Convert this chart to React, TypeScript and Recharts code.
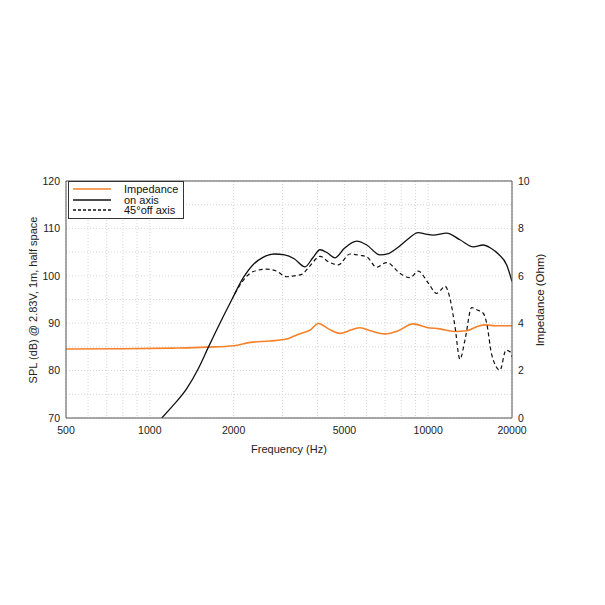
import { CartesianGrid, Legend, Line, LineChart, ReferenceLine, XAxis, YAxis } from 'recharts'

const FONT = '"Liberation Sans", Arial, sans-serif'
const ORANGE = '#f5822a'

// frequency ticks (grid on every decade step, labels only on the main ones)
const FREQ_TICKS = [500, 600, 700, 800, 900, 1000, 2000, 3000, 4000, 5000, 6000, 7000, 8000, 9000, 10000, 20000]
const FREQ_LABELS = [500, 1000, 2000, 5000, 10000, 20000]
const SPL_TICKS = [70, 75, 80, 85, 90, 95, 100, 105, 110, 115, 120]
const OHM_TICKS = [0, 2, 4, 6, 8, 10]

// impedance curve
const IMP_FREQ = [500, 800, 1200, 1600, 2000, 2300, 2700, 3100, 3300, 3550, 3760, 4030, 4400, 4820, 5300, 5700, 6200, 7000, 7800, 8800, 9900, 11000, 12400, 13750, 15000, 16000, 17500, 20000]
const IMP_OHM = [2.91, 2.92, 2.95, 2.99, 3.05, 3.19, 3.25, 3.33, 3.46, 3.6, 3.7, 3.99, 3.75, 3.57, 3.72, 3.81, 3.68, 3.55, 3.68, 3.97, 3.82, 3.76, 3.65, 3.68, 3.86, 3.93, 3.89, 3.89]

// on axis SPL
const ON_FREQ = [1104, 1215, 1357, 1493, 1622, 1786, 1968, 2167, 2354, 2550, 2800, 3050, 3300, 3611, 3850, 4087, 4350, 4626, 5000, 5540, 6015, 6712, 7200, 7710, 8400, 9210, 9800, 10430, 11640, 13000, 14530, 15770, 16800, 17860, 19140, 20000]
const ON_SPL = [70, 72.7, 76.2, 80.4, 84.9, 90, 94.9, 99.6, 102.4, 103.9, 104.6, 104.4, 103.6, 101.9, 103.8, 105.5, 104.8, 103.8, 105.8, 107.3, 106.5, 104.4, 104.7, 105.8, 107.6, 109.1, 108.8, 108.6, 109.0, 107.6, 106.1, 106.5, 105.8, 104.6, 102.3, 98.8]

// 45 deg off axis SPL
const OFF_FREQ = [2020, 2150, 2354, 2630, 2850, 3103, 3300, 3514, 3750, 4087, 4400, 4755, 5237, 5700, 6015, 6530, 7095, 7925, 8605, 9210, 10000, 10720, 11100, 11490, 12000, 12480, 13000, 13560, 14330, 15000, 15770, 16220, 16920, 18110, 19020, 19680, 20000]
const OFF_SPL = [96.2, 98.8, 100.9, 101.4, 101.0, 99.8, 100.0, 100.3, 102.0, 104.1, 102.9, 102.3, 104.6, 104.3, 104.0, 101.8, 102.8, 100.5, 99.6, 101.0, 98.5, 96.3, 97.0, 97.8, 95.0, 89.3, 82.4, 86.5, 93.3, 92.8, 92.1, 90.0, 83.3, 80.1, 84.3, 84.0, 82.9]

const impData = IMP_FREQ.map((f, i) => ({ f, v: IMP_OHM[i] }))
const onData = ON_FREQ.map((f, i) => ({ f, v: ON_SPL[i] }))
const offData = OFF_FREQ.map((f, i) => ({ f, v: OFF_SPL[i] }))

const LEGEND_ITEMS = [
  { label: 'Impedance', color: ORANGE, dash: undefined },
  { label: 'on axis', color: '#111', dash: undefined },
  { label: '45°off axis', color: '#111', dash: '3 2' },
]

function LegendBox() {
  return (
    <div
      style={{
        width: 114,
        border: '1px solid #333',
        background: '#fff',
        padding: '2px 0',
        fontFamily: FONT,
        fontSize: 11,
        lineHeight: '10.5px',
        color: '#111',
      }}
    >
      {LEGEND_ITEMS.map((it) => (
        <div key={it.label} style={{ display: 'flex', alignItems: 'center', height: 10.5 }}>
          <svg width={38} height={4} style={{ marginLeft: 4, marginRight: 13 }}>
            <line x1={0} y1={2} x2={38} y2={2} stroke={it.color} strokeWidth={1.3} strokeDasharray={it.dash} />
          </svg>
          <span>{it.label}</span>
        </div>
      ))}
    </div>
  )
}

const tickStyle = { fontSize: 10.5, fill: '#222', fontFamily: FONT }

export default function App() {
  return (
    <LineChart width={590} height={470} margin={{ top: 173, right: 36, bottom: 22, left: 0 }}>
      <CartesianGrid stroke="#d6d6d6" strokeDasharray="1 2" />
      <XAxis
        dataKey="f"
        type="number"
        scale="log"
        domain={[500, 20000]}
        ticks={FREQ_TICKS}
        interval={0}
        allowDataOverflow
        height={38}
        tickLine={false}
        tickSize={0}
        tickMargin={9}
        tick={tickStyle}
        tickFormatter={(v: number) => (FREQ_LABELS.includes(v) ? String(v) : '')}
        axisLine={{ stroke: '#555' }}
        label={{ value: 'Frequency (Hz)', position: 'insideBottom', offset: 3, fontSize: 11, fill: '#222', fontFamily: FONT }}
      />
      <YAxis
        type="number"
        domain={[70, 120]}
        ticks={SPL_TICKS}
        interval={0}
        allowDataOverflow
        width={58}
        tickLine={false}
        tickSize={0}
        tickMargin={6}
        tick={tickStyle}
        tickFormatter={(v: number) => (v % 10 === 0 ? String(v) : '')}
        axisLine={{ stroke: '#555' }}
        label={() => (
          <text x={25} y={292} transform="rotate(-90 25 292)" textAnchor="middle" dominantBaseline="central" fontSize={11} fill="#222" fontFamily={FONT}>
            SPL (dB) @ 2.83V, 1m, half space
          </text>
        )}
      />
      <YAxis
        yAxisId="imp"
        orientation="right"
        type="number"
        domain={[0, 10]}
        ticks={OHM_TICKS}
        interval={0}
        width={50}
        tickLine={false}
        tickSize={0}
        tickMargin={6}
        tick={tickStyle}
        axisLine={{ stroke: '#555' }}
        label={() => (
          <text x={532} y={292} transform="rotate(-90 532 292)" textAnchor="middle" dominantBaseline="central" fontSize={11.5} fill="#222" fontFamily={FONT}>
            Impedance (Ohm)
          </text>
        )}
      />
      <ReferenceLine y={120} stroke="#555" />
      <Line data={impData} yAxisId="imp" dataKey="v" type="monotone" stroke={ORANGE} strokeWidth={1.6} dot={false} isAnimationActive={false} />
      <Line data={onData} dataKey="v" type="monotone" stroke="#111" strokeWidth={1.3} dot={false} isAnimationActive={false} />
      <Line data={offData} dataKey="v" type="monotone" stroke="#111" strokeWidth={1.2} strokeDasharray="4 3" dot={false} isAnimationActive={false} />
      <Legend
        layout="vertical"
        align="center"
        verticalAlign="middle"
        wrapperStyle={{ left: 60, top: 173, width: 116 }}
        content={() => <LegendBox />}
      />
    </LineChart>
  )
}
